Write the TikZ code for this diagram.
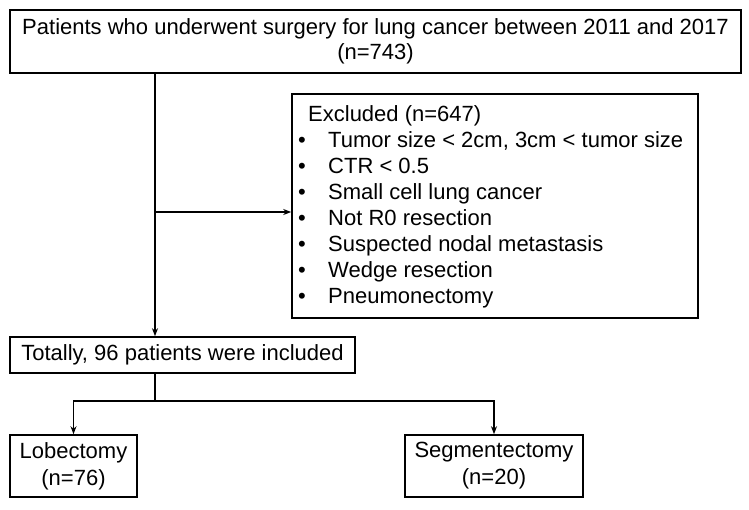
\documentclass[tikz,border=0pt]{standalone}
\usepackage{fontspec}
\setmainfont{Liberation Sans}
\usetikzlibrary{arrows.meta}
\begin{document}
\begin{tikzpicture}[x=1pt,y=-1pt,
  box/.style={draw, line width=1.6pt, inner sep=0pt, align=center},
  conn/.style={line width=1.6pt},
  arr/.style={line width=1.6pt, -{Stealth[length=8pt,width=6pt]}},
  txt/.style={font=\fontsize{22}{27}\selectfont}]
\useasboundingbox (0,0) rectangle (749,509);
\node[box, minimum width=731pt, minimum height=63pt, font=\fontsize{22}{25}\selectfont] (top) at (375.5,41.5)
  {Patients who underwent surgery for lung cancer between 2011 and 2017\\(n=743)};
\node[box, minimum width=406pt, minimum height=224pt] (excl) at (495,206) {};
\node[anchor=west, inner sep=0pt, font=\fontsize{22}{26}\selectfont] (excltext) at (298,207)
  {\begin{tabular}{@{}p{30pt}@{}l@{}}
   \multicolumn{2}{@{\hspace{10pt}}l@{}}{Excluded (n=647)}\\
   \textbullet & Tumor size < 2cm, 3cm < tumor size\\
   \textbullet & CTR < 0.5\\
   \textbullet & Small cell lung cancer\\
   \textbullet & Not R0 resection\\
   \textbullet & Suspected nodal metastasis\\
   \textbullet & Wedge resection\\
   \textbullet & Pneumonectomy
   \end{tabular}};
\node[box, txt, minimum width=345pt, minimum height=36pt] (tot) at (182.5,355)
  {Totally, 96 patients were included};
\node[box, txt, minimum width=127pt, minimum height=62pt] (lob) at (73.5,466)
  {Lobectomy\\(n=76)};
\node[box, txt, minimum width=178pt, minimum height=62pt] (seg) at (494,466)
  {Segmentectomy\\(n=20)};
\coordinate (ta) at (155,0);
\coordinate (br) at (155,212);
\coordinate (sp) at (155,401);
\draw[arr] (top.south -| ta) -- (tot.north -| ta);
\draw[arr] (br) -- (br -| excl.west);
\draw[conn] (tot.south -| ta) -- (sp);
\draw[arr] (sp) -| (lob.north);
\draw[arr] (sp) -| (seg.north);
\end{tikzpicture}
\end{document}
